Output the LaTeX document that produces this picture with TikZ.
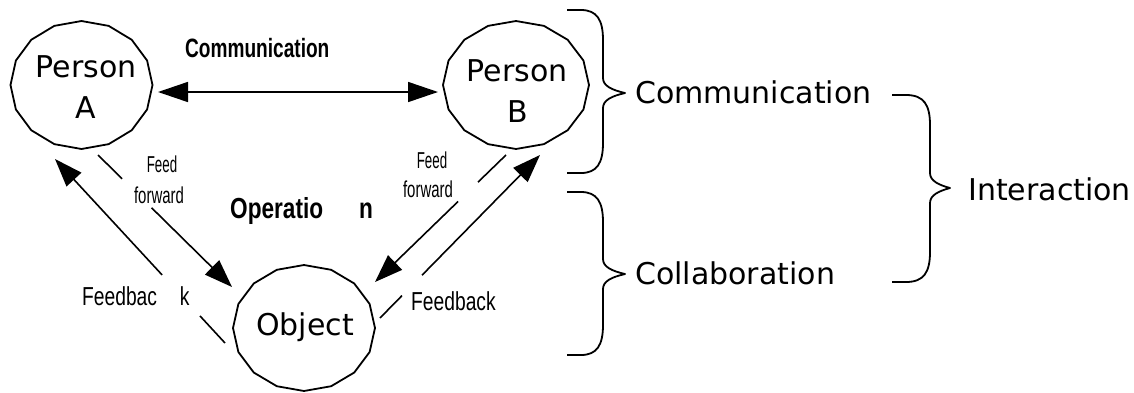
\documentclass[tikz,border=0pt]{standalone}
\usepackage{fontspec}
\usepackage{graphicx}
\setmainfont{DejaVu Sans}
\newfontfamily\condf{Liberation Sans}
\usetikzlibrary{arrows.meta,calc,shapes.geometric}
\newcommand\drawbrace[6]{%
  \draw[bracestyle] (#1,#4) -- ({#1+14},#4)
    .. controls ({#2-6},#4) and (#2,{#4+10}) .. (#2,{#4+30})
    -- (#2,{#5-15})
    .. controls (#2,{#5-7}) and ({#2+9},{#5-3}) .. (#3,#5)
    .. controls ({#2+9},{#5+3}) and (#2,{#5+7}) .. (#2,{#5+15})
    -- (#2,{#6-30})
    .. controls (#2,{#6-10}) and ({#2-6},#6) .. ({#1+14},#6) -- (#1,#6);}
\begin{document}
\begin{tikzpicture}[x=1pt,y=-1pt,
  polyline/.style={line width=1.8pt, line join=miter},
  conn/.style={line width=1.6pt},
  tipped/.style={conn,-{Triangle[length=28pt,width=20pt]}},
  dblarrow/.style={conn,{Triangle[length=30pt,width=20pt]}-{Triangle[length=30pt,width=20pt]}},
  bracestyle/.style={line width=1.8pt, line join=round},
  hole/.style={ellipse, draw=none, inner sep=0pt, minimum width=142pt, minimum height=128pt},
  bigtxt/.style={font=\fontsize{30}{36}\selectfont, inner sep=0pt, anchor=base},
  sidetxt/.style={font=\fontsize{30}{36}\selectfont, inner sep=0pt, anchor=base west},
  boldlbl/.style={font=\condf\bfseries, inner sep=0pt, anchor=base west},
  smalllbl/.style={font=\condf\fontsize{23}{28}\selectfont, inner sep=0pt, anchor=base},
  fblbl/.style={font=\condf\fontsize{26}{30}\selectfont, inner sep=0pt, anchor=base west}
]
\useasboundingbox[fill=white] (0,0) rectangle (1134,392);

% actor / object shapes
\node[hole] (A) at (81.5,85) {};
\node[hole] (B) at (516,85) {};
\node[hole] (O) at (304,328) {};
\foreach \n/\rx/\ry in {A/71/64, B/73/64, O/71/63}{
  \begin{scope}[shift={(\n.center)}]
    \draw[polyline] plot[samples=17, domain=90:450, variable=\t] ({\rx*cos(\t)},{\ry*sin(\t)}) -- cycle;
  \end{scope}
}
\node[bigtxt] (A1) at (86,77) {Person};
\node[bigtxt] (A2) at (86,118) {A};
\node[bigtxt] (B1) at (517,81.5) {Person};
\node[bigtxt] (B2) at (518,122) {B};
\node[bigtxt] (O1) at (305,335) {Object};

% communication arrow
\draw[dblarrow] ($(A.center)+(76.5,7)$) -- ($(B.center)+(-78,7)$);
\node[boldlbl, font=\condf\bfseries\fontsize{26.5}{30}\selectfont] (commlbl) at (185,57) {\scalebox{0.72}[1]{Communication}};
\node[boldlbl, font=\condf\bfseries\fontsize{29}{34}\selectfont] (oplbl) at (230,218) {\scalebox{0.78}[1]{Operatio\hspace{46pt}n}};

% feed forward A -> Object
\coordinate (ffAs) at ($(A.center)+(16.5,70)$);
\coordinate (ffAe) at ($(O.center)+(-72,-41)$);
\path (ffAs) -- coordinate[pos=0.18] (ffAa) coordinate[pos=0.40] (ffAb) (ffAe);
\draw[conn] (ffAs) -- (ffAa);
\draw[tipped] (ffAb) -- (ffAe);

% feedback Object -> A
\coordinate (fbAs) at ($(O.center)+(-79,15)$);
\coordinate (fbAe) at ($(A.center)+(-26.5,74)$);
\path (fbAs) -- coordinate[pos=0.147] (fbAa) coordinate[pos=0.37] (fbAb) (fbAe);
\draw[conn] (fbAs) -- (fbAa);
\draw[tipped] (fbAb) -- (fbAe);

% feed forward B -> Object
\coordinate (ffBs) at ($(B.center)+(-10,70)$);
\coordinate (ffBe) at ($(O.center)+(71,-46)$);
\path (ffBs) -- coordinate[pos=0.214] (ffBa) coordinate[pos=0.366] (ffBb) (ffBe);
\draw[conn] (ffBs) -- (ffBa);
\draw[tipped] (ffBb) -- (ffBe);

% feedback Object -> B
\coordinate (fbBs) at ($(O.center)+(76,-10)$);
\coordinate (fbBe) at ($(B.center)+(24,70)$);
\path (fbBs) -- coordinate[pos=0.1375] (fbBa) coordinate[pos=0.2625] (fbBb) (fbBe);
\draw[conn] (fbBs) -- (fbBa);
\draw[tipped] (fbBb) -- (fbBe);

% small labels
\node[smalllbl] (feedL) at (162,172) {\scalebox{0.58}[1]{Feed}};
\node[smalllbl] (fwdL) at (159,203) {\scalebox{0.65}[1]{forward}};
\node[smalllbl] (feedR) at (432,168) {\scalebox{0.58}[1]{Feed}};
\node[smalllbl] (fwdR) at (428,197) {\scalebox{0.65}[1]{forward}};
\node[fblbl] (fbL) at (82,305) {\scalebox{0.74}[1]{Feedbac\hspace{31pt}k}};
\node[fblbl] (fbR) at (411,310) {\scalebox{0.74}[1]{Feedback}};

% braces
\drawbrace{567}{603}{625}{10}{93}{173}
\drawbrace{567}{603}{625}{192}{274}{355}
\drawbrace{892}{930}{950}{95}{188}{282}
\node[sidetxt] (comm) at (635,103) {Communication};
\node[sidetxt] (coll) at (635,284) {Collaboration};
\node[sidetxt] (inter) at (968,200) {Interaction};
\end{tikzpicture}
\end{document}
